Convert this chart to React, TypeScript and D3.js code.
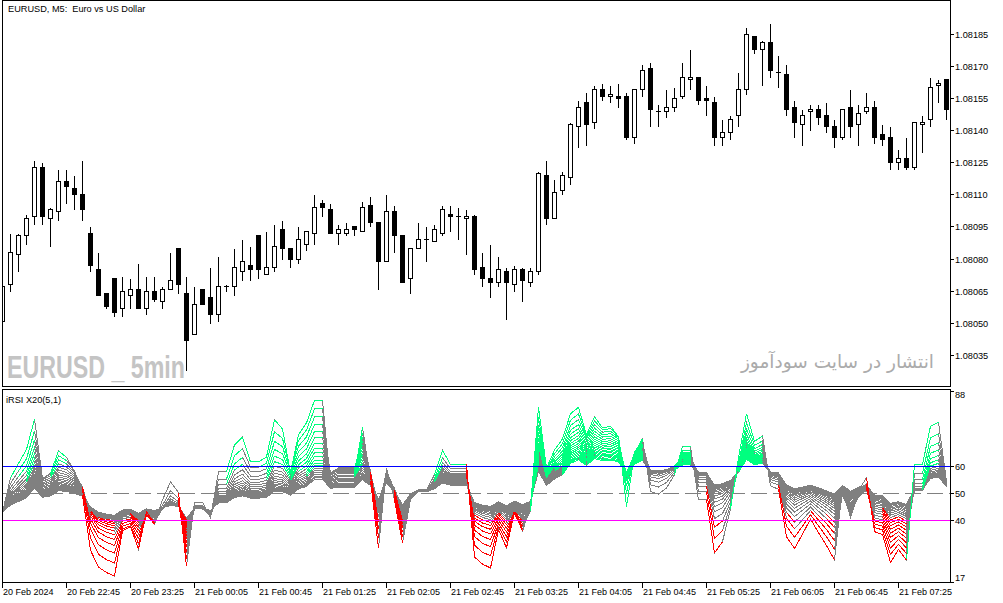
import React from 'react';
import * as d3 from 'd3';

// ---- DATA (EURUSD M5, 20 Feb 22:05 .. 21 Feb 07:35) ----
const opens = [
  1.08051, 1.08068, 1.08082, 1.08091, 1.08100, 1.08123, 1.08099, 1.08102, 1.08116, 1.08113,
  1.08110, 1.08092, 1.08075, 1.08064, 1.08071, 1.08057, 1.08063, 1.08066, 1.08057, 1.08065,
  1.08060, 1.08066, 1.08085, 1.08064, 1.08045, 1.08066, 1.08062, 1.08054, 1.08067, 1.08067,
  1.08074, 1.08077, 1.08091, 1.08073, 1.08076, 1.08094, 1.08085, 1.08080, 1.08087, 1.08092,
  1.08106, 1.08103, 1.08092, 1.08092, 1.08095, 1.08093, 1.08105, 1.08097, 1.08079, 1.08102,
  1.08091, 1.08071, 1.08085, 1.08089, 1.08088, 1.08092, 1.08101, 1.08100, 1.08099, 1.08100,
  1.08076, 1.08071, 1.08069, 1.08074, 1.08068, 1.08075, 1.08069, 1.08074, 1.08119, 1.08099,
  1.08112, 1.08118, 1.08142, 1.08153, 1.08144, 1.08159, 1.08156, 1.08156, 1.08156, 1.08137,
  1.08159, 1.08169, 1.08149, 1.08149, 1.08151, 1.08156, 1.08164, 1.08165, 1.08155, 1.08153,
  1.08137, 1.08139, 1.08147, 1.08159, 1.08184, 1.08178, 1.08181, 1.08167, 1.08166, 1.08151,
  1.08143, 1.08149, 1.08150, 1.08147, 1.08142, 1.08137, 1.08151, 1.08143, 1.08149, 1.08151,
  1.08138, 1.08137, 1.08125, 1.08127, 1.08123, 1.08143, 1.08145, 1.08161, 1.08164,
];
const highs = [
  1.08068, 1.08092, 1.08092, 1.08101, 1.08126, 1.08125, 1.08104, 1.08122, 1.08122, 1.08119,
  1.08126, 1.08095, 1.08083, 1.08064, 1.08071, 1.08072, 1.08071, 1.08078, 1.08072, 1.08072,
  1.08067, 1.08083, 1.08085, 1.08072, 1.08067, 1.08066, 1.08076, 1.08081, 1.08068, 1.08085,
  1.08089, 1.08086, 1.08091, 1.08093, 1.08096, 1.08098, 1.08085, 1.08095, 1.08093, 1.08110,
  1.08108, 1.08106, 1.08096, 1.08097, 1.08095, 1.08107, 1.08109, 1.08097, 1.08110, 1.08105,
  1.08091, 1.08085, 1.08097, 1.08095, 1.08096, 1.08105, 1.08105, 1.08104, 1.08103, 1.08101,
  1.08083, 1.08087, 1.08081, 1.08076, 1.08077, 1.08076, 1.08076, 1.08121, 1.08126, 1.08117,
  1.08121, 1.08144, 1.08154, 1.08158, 1.08161, 1.08162, 1.08161, 1.08162, 1.08158, 1.08159,
  1.08171, 1.08172, 1.08152, 1.08159, 1.08160, 1.08172, 1.08178, 1.08165, 1.08161, 1.08156,
  1.08145, 1.08147, 1.08167, 1.08188, 1.08184, 1.08182, 1.08190, 1.08175, 1.08171, 1.08154,
  1.08150, 1.08152, 1.08152, 1.08153, 1.08145, 1.08150, 1.08159, 1.08152, 1.08158, 1.08154,
  1.08143, 1.08142, 1.08131, 1.08137, 1.08144, 1.08147, 1.08165, 1.08164, 1.08164,
];
const lows = [
  1.08050, 1.08065, 1.08074, 1.08087, 1.08096, 1.08096, 1.08086, 1.08098, 1.08106, 1.08103,
  1.08098, 1.08074, 1.08063, 1.08057, 1.08053, 1.08053, 1.08057, 1.08057, 1.08054, 1.08060,
  1.08057, 1.08066, 1.08064, 1.08028, 1.08045, 1.08059, 1.08050, 1.08051, 1.08065, 1.08063,
  1.08070, 1.08070, 1.08071, 1.08073, 1.08074, 1.08080, 1.08076, 1.08078, 1.08084, 1.08087,
  1.08100, 1.08092, 1.08087, 1.08091, 1.08091, 1.08093, 1.08095, 1.08066, 1.08079, 1.08083,
  1.08069, 1.08064, 1.08085, 1.08079, 1.08088, 1.08091, 1.08093, 1.08089, 1.08082, 1.08073,
  1.08067, 1.08062, 1.08067, 1.08052, 1.08065, 1.08060, 1.08067, 1.08073, 1.08096, 1.08099,
  1.08110, 1.08115, 1.08132, 1.08133, 1.08141, 1.08154, 1.08153, 1.08151, 1.08136, 1.08134,
  1.08156, 1.08142, 1.08142, 1.08146, 1.08149, 1.08155, 1.08159, 1.08152, 1.08147, 1.08133,
  1.08133, 1.08136, 1.08142, 1.08157, 1.08176, 1.08161, 1.08165, 1.08160, 1.08147, 1.08137,
  1.08133, 1.08140, 1.08143, 1.08139, 1.08132, 1.08136, 1.08137, 1.08133, 1.08148, 1.08134,
  1.08133, 1.08122, 1.08122, 1.08122, 1.08122, 1.08130, 1.08142, 1.08153, 1.08145,
];
const closes = [
  1.08067, 1.08083, 1.08091, 1.08099, 1.08123, 1.08100, 1.08103, 1.08116, 1.08114, 1.08110,
  1.08103, 1.08077, 1.08063, 1.08058, 1.08055, 1.08065, 1.08066, 1.08057, 1.08065, 1.08061,
  1.08066, 1.08070, 1.08068, 1.08042, 1.08059, 1.08059, 1.08054, 1.08067, 1.08067, 1.08076,
  1.08079, 1.08075, 1.08075, 1.08076, 1.08086, 1.08085, 1.08080, 1.08089, 1.08093, 1.08104,
  1.08104, 1.08092, 1.08094, 1.08094, 1.08094, 1.08104, 1.08097, 1.08079, 1.08102, 1.08091,
  1.08069, 1.08085, 1.08089, 1.08089, 1.08094, 1.08103, 1.08100, 1.08100, 1.08100, 1.08075,
  1.08071, 1.08069, 1.08075, 1.08069, 1.08075, 1.08070, 1.08074, 1.08120, 1.08099, 1.08111,
  1.08119, 1.08143, 1.08151, 1.08143, 1.08159, 1.08156, 1.08157, 1.08155, 1.08137, 1.08159,
  1.08168, 1.08150, 1.08149, 1.08151, 1.08155, 1.08165, 1.08165, 1.08154, 1.08154, 1.08137,
  1.08139, 1.08145, 1.08159, 1.08185, 1.08178, 1.08181, 1.08168, 1.08167, 1.08150, 1.08144,
  1.08147, 1.08150, 1.08146, 1.08142, 1.08137, 1.08150, 1.08142, 1.08148, 1.08151, 1.08137,
  1.08136, 1.08125, 1.08127, 1.08123, 1.08144, 1.08144, 1.08160, 1.08162, 1.08150,
];

const timeLabels = [
  '20 Feb 2024', '20 Feb 22:45', '20 Feb 23:25', '21 Feb 00:05', '21 Feb 00:45',
  '21 Feb 01:25', '21 Feb 02:05', '21 Feb 02:45', '21 Feb 03:25', '21 Feb 04:05',
  '21 Feb 04:45', '21 Feb 05:25', '21 Feb 06:05', '21 Feb 06:45', '21 Feb 07:25',
];
const timeLabelBars = [0, 8, 16, 24, 32, 40, 48, 56, 64, 72, 80, 88, 96, 104, 112];
const priceTicks = [1.08185, 1.0817, 1.08155, 1.0814, 1.08125, 1.0811, 1.08095, 1.0808, 1.08065, 1.0805, 1.08035];
const rsiTicks = [88, 60, 50, 40, 17];
const rsiUpper = 60;
const rsiMid = 50;
const rsiLower = 40;
const rsiFirstPeriod = 5;
const rsiStep = 1;
const rsiCount = 20;
// indicator state carried in from the bars before the visible window
const rsiSeedGain = 0.00006;
const rsiSeedLoss = 0.00008;

const W = 1003;
const H = 603;
const FONT = 'Liberation Sans, Arial, sans-serif';

function computeRSI(c: number[], period: number): number[] {
  let g = rsiSeedGain;
  let l = rsiSeedLoss;
  const out = [100 - 100 / (1 + g / l)];
  for (let i = 1; i < c.length; i++) {
    const ch = c[i] - c[i - 1];
    g = (g * (period - 1) + Math.max(ch, 0)) / period;
    l = (l * (period - 1) + Math.max(-ch, 0)) / period;
    out.push(l === 0 ? 100 : 100 - 100 / (1 + g / l));
  }
  return out;
}

export default function App() {
  const n = Math.min(opens.length, highs.length, lows.length, closes.length);
  const x = d3.scaleLinear().domain([0, 118]).range([2.5, 946.5]);
  const y = d3.scaleLinear().domain([1.08035, 1.08185]).range([355, 33.7]);
  const ry = d3.scaleLinear().domain([17, 88]).range([582, 390.5]);
  const py = (v: number) => Math.round(y(v)) + 0.5;

  const periods = d3.range(rsiCount).map((i) => rsiFirstPeriod + i * rsiStep);
  const rsis = periods.map((p) => computeRSI(closes.slice(0, n), p));
  const line = d3
    .line<number>()
    .x((_, i) => x(i))
    .y((v) => ry(v));

  const greenSegs: string[] = [];
  const redSegs: string[] = [];
  rsis.forEach((v) => {
    for (let i = 1; i < v.length; i++) {
      const nx = i + 1 < v.length ? v[i + 1] : NaN;
      const up = v[i] > rsiUpper || (v[i - 1] > rsiUpper && nx > rsiUpper);
      const dn = v[i] < rsiLower || (v[i - 1] < rsiLower && nx < rsiLower);
      const seg = `M${x(i - 1)},${ry(v[i - 1])}L${x(i)},${ry(v[i])}`;
      if (up) greenSegs.push(seg);
      else if (dn) redSegs.push(seg);
    }
  });

  const candles = d3.range(n).map((i) => {
    const o = opens[i], h = highs[i], l = lows[i], c = closes[i];
    const cx = x(i);
    const top = py(Math.max(o, c));
    const bot = py(Math.min(o, c));
    const bull = c >= o;
    return (
      <g key={i}>
        <line x1={cx} x2={cx} y1={py(h)} y2={py(l)} stroke="#000" strokeWidth={1} />
        {bot - top < 1 ? (
          <line x1={cx - 2.5} x2={cx + 2.5} y1={top} y2={top} stroke="#000" strokeWidth={1} />
        ) : (
          <rect x={cx - 2} y={top} width={4} height={bot - top} fill={bull ? '#fff' : '#000'} stroke="#000" strokeWidth={1} />
        )}
      </g>
    );
  });

  return (
    <svg
      width={W}
      height={H}
      style={{ position: 'absolute', left: 0, top: 0, background: '#fff' }}
      shapeRendering="crispEdges"
    >
      <defs>
        <clipPath id="topClip">
          <rect x={3} y={1} width={947} height={385} />
        </clipPath>
        <clipPath id="botClip">
          <rect x={3} y={390} width={947} height={192} />
        </clipPath>
      </defs>
      <rect x={0} y={0} width={W} height={H} fill="#fff" />

      {/* watermarks */}
      <text
        x={7}
        y={378}
        fontFamily={FONT}
        fontWeight="bold"
        fontSize={32}
        fill="#c4c4c4"
        textLength={178}
        lengthAdjust="spacingAndGlyphs"
        style={{ whiteSpace: 'pre' }}
        shapeRendering="auto"
      >
        EURUSD _ 5min
      </text>
      <text
        x={934}
        y={368}
        fontFamily="DejaVu Sans, sans-serif"
        fontSize={18.5}
        fill="#ababab"
        textAnchor="end"
      >
        انتشار در سایت سودآموز
      </text>

      {/* candles */}
      <g clipPath="url(#topClip)">{candles}</g>

      {/* frames */}
      <rect x={2.5} y={0.5} width={948} height={386} fill="none" stroke="#000" />
      <rect x={2.5} y={389.5} width={948} height={193} fill="none" stroke="#000" />

      <text x={8} y={12} fontFamily={FONT} fontSize={9.2} fill="#000" style={{ whiteSpace: 'pre' }}>
        {'EURUSD, M5:  Euro vs US Dollar'}
      </text>

      {/* price axis */}
      {priceTicks.map((p) => (
        <g key={p}>
          <line x1={950.5} x2={954} y1={py(p)} y2={py(p)} stroke="#000" />
          <text x={955} y={py(p) + 3} fontFamily={FONT} fontSize={9.2} fill="#000">
            {p.toFixed(5)}
          </text>
        </g>
      ))}

      {/* indicator */}
      <g clipPath="url(#botClip)">
        <line x1={3} x2={950} y1={Math.round(ry(rsiMid)) + 0.5} y2={Math.round(ry(rsiMid)) + 0.5} stroke="#808080" strokeDasharray="16,6" />
        {rsis.map((v, k) => (
          <path key={k} d={line(v) || ''} fill="none" stroke="#808080" strokeWidth={1} />
        ))}
        <path d={greenSegs.join('')} fill="none" stroke="#00ff7f" strokeWidth={1} />
        <path d={redSegs.join('')} fill="none" stroke="#ff0000" strokeWidth={1} />
        <line x1={3} x2={950} y1={Math.round(ry(rsiUpper)) + 0.5} y2={Math.round(ry(rsiUpper)) + 0.5} stroke="#0000ff" />
        <line x1={3} x2={950} y1={Math.round(ry(rsiLower)) + 0.5} y2={Math.round(ry(rsiLower)) + 0.5} stroke="#ff00ff" />
      </g>
      <text x={6} y={402.5} fontFamily={FONT} fontSize={9.2} fill="#000">
        iRSI X20(5,1)
      </text>
      {rsiTicks.map((t) => {
        const ty = Math.round(ry(t)) + 0.5;
        const ly = Math.min(Math.max(ty + 3, 398), 580.5);
        return (
          <g key={t}>
            <line x1={950.5} x2={954} y1={ty} y2={ty} stroke="#000" />
            <text x={955} y={ly} fontFamily={FONT} fontSize={9.2} fill="#000">
              {t}
            </text>
          </g>
        );
      })}

      {/* time axis */}
      {timeLabelBars.map((b, i) => (
        <g key={b}>
          <line x1={x(b)} x2={x(b)} y1={582.5} y2={588} stroke="#000" />
          <text x={x(b) + 0.5} y={594.5} fontFamily={FONT} fontSize={9} fill="#000">
            {timeLabels[i]}
          </text>
        </g>
      ))}
    </svg>
  );
}
